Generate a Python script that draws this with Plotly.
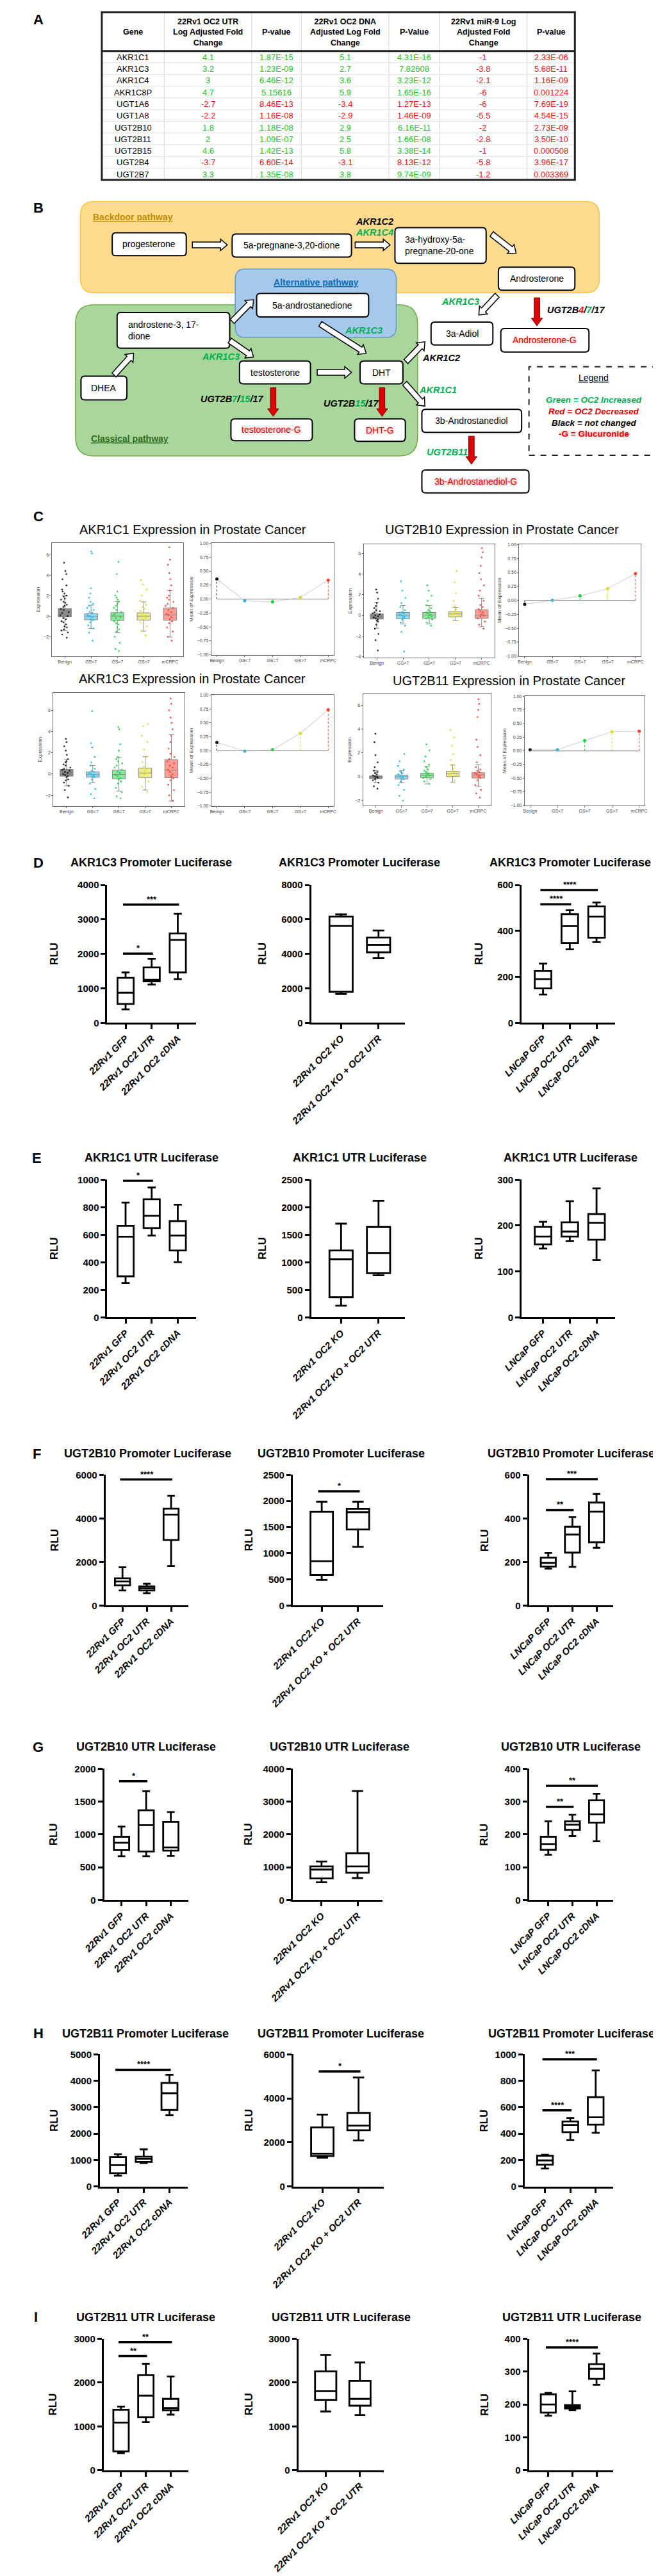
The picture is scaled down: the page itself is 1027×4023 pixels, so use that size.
import plotly.graph_objects as go

W, H = 1027, 4023
FONT = "Liberation Sans, Arial, Helvetica, sans-serif"
GREEN = "#00B050"
TGREEN = "#22C322"
RED = "#F01010"

# ---------------- panel A: table ----------------
genes = ["AKR1C1", "AKR1C3", "AKR1C4", "AKR1C8P", "UGT1A6", "UGT1A8",
         "UGT2B10", "UGT2B11", "UGT2B15", "UGT2B4", "UGT2B7"]
utr_fc = [4.1, 3.2, 3, 4.7, -2.7, -2.2, 1.8, 2, 4.6, -3.7, 3.3]
utr_p = ["1.87E-15", "1.23E-09", "6.46E-12", "5.15616", "8.46E-13", "1.16E-08",
         "1.18E-08", "1.09E-07", "1.42E-13", "6.60E-14", "1.35E-08"]
dna_fc = [5.1, 2.7, 3.6, 5.9, -3.4, -2.9, 2.9, 2.5, 5.8, -3.1, 3.8]
dna_p = ["4.31E-16", "7.82608", "3.23E-12", "1.65E-16", "1.27E-13", "1.46E-09",
         "6.16E-11", "1.66E-08", "3.38E-14", "8.13E-12", "9.74E-09"]
mir_fc = [-1, -3.8, -2.1, -6, -6, -5.5, -2, -2.8, -1, -5.8, -1.2]
mir_p = ["2.33E-06", "5.68E-11", "1.16E-09", "0.001224", "7.69E-19", "4.54E-15",
         "2.73E-09", "3.50E-10", "0.000508", "3.96E-17", "0.003369"]
table_headers = ["Gene", "22Rv1 OC2 UTR<br>Log Adjusted Fold<br>Change", "P-value",
                 "22Rv1 OC2 DNA<br>Adjusted Log Fold<br>Change", "P-Value",
                 "22Rv1 miR-9 Log<br>Adjusted Fold<br>Change", "P-value"]

# ---------------- panel C: expression by stage ----------------
stages = ["Benign", "GS<7", "GS=7", "GS>7", "mCRPC"]
stage_colors = ["#111111", "#1AB8E8", "#19D13C", "#DCDC1E", "#FF3A2A"]

# [lower whisker, q1, median, q3, upper whisker] for each stage
akr1c1_box = [[-1.41, -0.08, 0.21, 0.74, 2.0], [-1.2, -0.36, -0.04, 0.23, 1.07],
              [-1.58, -0.42, 0.0, 0.34, 1.43], [-1.47, -0.38, 0.0, 0.32, 1.39],
              [-2.04, -0.4, 0.13, 0.8, 2.48]]
akr1c1_mean = [0.36, -0.03, -0.05, 0.03, 0.34]
akr1c1_pts = [[5.2, 4.4, 4.1, 3.6, 3.0, 2.6, 2.4, 2.2, 2.0, 1.9, 1.7, 1.6, 1.4, 1.3, 1.1, 1.0, 0.9, 0.7, 0.6,
               0.4, 0.3, 0.1, 0.0, -0.2, -0.3, -0.5, -0.6, -0.8, -1.0, -1.1, -1.3, -1.4, -1.6, -1.8, -2.1],
              [6.3, 6.1, 2.7, 2.2, 1.8, 1.4, 1.2, 1.0, 0.8, 0.6, 0.4, 0.3, 0.1, 0.0, -0.1, -0.3, -0.4, -0.6,
               -0.9, -1.2, -1.6, -2.4],
              [5.3, 4.1, 2.4, 2.0, 1.8, 1.6, 1.4, 1.2, 1.0, 0.8, 0.6, 0.4, 0.2, 0.1, -0.1, -0.2, -0.4, -0.5,
               -0.7, -0.8, -1.1, -1.3, -1.5, -2.0, -2.6, -3.2, -3.4],
              [3.5, 3.1, 2.6, 2.0, 1.5, 1.1, 0.9, 0.7, 0.5, 0.3, 0.1, 0.0, -0.2, -0.3, -0.6, -1.0, -1.4, -1.9],
              [6.7, 5.5, 5.0, 4.2, 3.6, 3.0, 2.5, 2.0, 1.8, 1.6, 1.4, 1.2, 1.0, 0.8, 0.6, 0.4, 0.2, 0.1, -0.1,
               -0.3, -0.5, -0.7, -1.1, -1.5, -2.0, -2.4]]

ugt2b10_box = [[-1.24, -0.36, -0.1, 0.14, 1.24], [-0.83, -0.33, 0.0, 0.28, 0.96],
               [-0.83, -0.28, 0.03, 0.28, 0.96], [-0.47, -0.14, 0.14, 0.36, 0.77],
               [-1.1, -0.28, 0.0, 0.55, 1.65]]
ugt2b10_mean = [-0.07, 0.0, 0.08, 0.21, 0.48]
ugt2b10_pts = [[2.5, 2.2, 1.6, 1.2, 0.9, 0.7, 0.5, 0.4, 0.3, 0.2, 0.1, 0.0, -0.1, -0.2, -0.3, -0.4, -0.5, -0.6,
                -0.9, -1.3, -1.8, -2.4, -3.4],
               [3.3, 2.4, 1.7, 1.2, 0.8, 0.5, 0.3, 0.2, 0.1, 0.0, -0.1, -0.2, -0.3, -0.4, -0.7, -1.0, -1.6, -3.5],
               [2.9, 2.4, 1.9, 1.4, 1.0, 0.7, 0.5, 0.4, 0.3, 0.2, 0.1, 0.0, -0.1, -0.2, -0.3, -0.4, -0.7, -1.0],
               [4.3, 3.2, 2.1, 1.4, 0.9, 0.6, 0.4, 0.3, 0.2, 0.1, 0.0, -0.2, -0.5],
               [6.5, 6.1, 5.6, 4.8, 4.1, 3.5, 2.9, 2.4, 1.9, 1.4, 1.0, 0.8, 0.6, 0.4, 0.3, 0.1, 0.0, -0.1,
                -0.3, -0.6, -0.9, -1.3]]

akr1c3_box = [[-1.1, -0.2, 0.06, 0.44, 1.4], [-0.8, -0.3, -0.06, 0.2, 0.8],
              [-1.6, -0.44, -0.04, 0.36, 1.56], [-1.5, -0.32, 0.1, 0.56, 1.64],
              [-2.54, -0.34, 0.36, 1.34, 3.7]]
akr1c3_mean = [0.146, -0.01, 0.015, 0.31, 0.735]
akr1c3_pts = [[3.3, 3.0, 2.6, 2.2, 1.8, 1.4, 1.2, 1.1, 0.9, 0.8, 0.6, 0.5, 0.4, 0.3, 0.2, 0.1, 0.0, -0.1, -0.2,
               -0.3, -0.5, -0.6, -0.8, -1.1, -1.5, -2.2],
              [5.9, 2.9, 2.5, 1.6, 1.1, 0.8, 0.5, 0.3, 0.2, 0.1, 0.0, -0.1, -0.2, -0.3, -0.5, -0.9, -1.4,
               -1.9, -2.3],
              [4.4, 4.2, 2.8, 2.2, 1.6, 1.4, 1.2, 1.0, 0.8, 0.6, 0.4, 0.2, 0.1, -0.1, -0.2, -0.4, -0.5, -0.7,
               -0.9, -1.3, -1.7, -2.1, -2.3],
              [4.7, 4.5, 3.6, 3.0, 2.3, 1.6, 1.1, 0.7, 0.5, 0.3, 0.1, 0.0, -0.3, -0.7, -1.2, -1.7],
              [7.1, 6.6, 6.0, 5.3, 4.8, 4.2, 3.6, 3.0, 2.4, 1.9, 1.6, 1.4, 1.2, 1.0, 0.8, 0.6, 0.4, 0.2, 0.0,
               -0.2, -0.4, -0.6, -1.0, -1.5, -2.0, -2.5]]

ugt2b11_box = [[-0.5, -0.16, -0.05, 0.07, 0.5], [-0.5, -0.2, 0.0, 0.14, 0.5],
               [-0.6, -0.09, 0.11, 0.3, 0.86], [-0.45, 0.02, 0.25, 0.45, 0.98],
               [-0.8, -0.11, 0.14, 0.34, 1.0]]
ugt2b11_mean = [0.02, 0.02, 0.19, 0.35, 0.36]
ugt2b11_pts = [[3.6, 2.9, 1.8, 1.2, 0.8, 0.5, 0.4, 0.3, 0.2, 0.1, 0.05, 0.0, -0.05, -0.1, -0.2, -0.3, -0.5,
                -0.8, -1.0],
               [1.9, 1.3, 0.9, 0.6, 0.4, 0.3, 0.2, 0.1, 0.0, -0.1, -0.2, -0.4, -0.7, -1.1, -1.6, -2.0],
               [2.7, 2.2, 1.7, 1.3, 1.0, 0.8, 0.6, 0.5, 0.4, 0.3, 0.2, 0.1, 0.0, -0.1, -0.2, -0.4, -0.6],
               [3.9, 3.3, 2.6, 1.9, 1.4, 1.0, 0.7, 0.5, 0.4, 0.3, 0.2, 0.1, 0.0, -0.3],
               [6.5, 6.1, 5.6, 5.0, 3.1, 2.5, 1.8, 1.2, 0.8, 0.6, 0.5, 0.4, 0.3, 0.2, 0.1, 0.0, -0.1, -0.3,
                -0.7, -1.1, -1.4, -1.75]]

# ---------------- panels D-I: luciferase (min, q1, median, q3, max) ----------------
groups_22 = ["22Rv1 GFP", "22Rv1 OC2 UTR", "22Rv1 OC2 cDNA"]
groups_ko = ["22Rv1 OC2 KO", "22Rv1 OC2 KO + OC2 UTR"]
groups_ln = ["LNCaP GFP", "LNCaP OC2 UTR", "LNCaP OC2 cDNA"]

d1 = [[390, 547, 875, 1305, 1461], [1109, 1203, 1250, 1609, 1859], [1266, 1461, 2406, 2594, 3164]]
d2 = [[1672, 1797, 5625, 6172, 6297], [3750, 4094, 4531, 4953, 5359]]
d3 = [[123, 150, 190, 226, 258], [320, 348, 421, 473, 490], [351, 371, 463, 507, 524]]
e1 = [[250, 298, 586, 665, 833], [594, 648, 738, 858, 943], [401, 486, 594, 699, 818]]
e2 = [[212, 367, 1053, 1215, 1701], [764, 802, 1169, 1640, 2114]]
e3 = [[150, 159, 176, 197, 208], [166, 176, 187, 207, 253], [125, 169, 206, 225, 281]]
f1 = [[693, 927, 1102, 1249, 1756], [566, 693, 790, 878, 1005], [1815, 3005, 4176, 4449, 5034]]
f2 = [[490, 587, 850, 1792, 1986], [1125, 1456, 1784, 1849, 1986]]
f3 = [[169, 179, 196, 220, 241], [177, 243, 326, 362, 406], [265, 290, 431, 473, 512]]
g1 = [[668, 761, 874, 965, 1119], [668, 739, 1142, 1368, 1658], [674, 755, 803, 1190, 1342]]
g2 = [[543, 659, 931, 1027, 1176], [672, 834, 1027, 1428, 3321]]
g3 = [[138, 153, 171, 193, 240], [195, 214, 230, 240, 260], [179, 236, 261, 304, 324]]
h1 = [[403, 500, 806, 1113, 1218], [887, 927, 1048, 1129, 1403], [2694, 2895, 3532, 3919, 4226]]
h2 = [[1300, 1380, 1488, 2686, 3266], [2087, 2551, 2763, 3343, 4957]]
h3 = [[136, 165, 197, 232, 240], [350, 411, 466, 492, 519], [406, 468, 524, 676, 879]]
i1 = [[390, 429, 1088, 1380, 1454], [1098, 1210, 1703, 2169, 2431], [1268, 1370, 1420, 1630, 2140]]
i2 = [[1341, 1601, 1805, 2256, 2635], [1258, 1473, 1630, 2038, 2460]]
i3 = [[166, 175, 200, 231, 235], [183, 188, 193, 198, 240], [260, 278, 309, 323, 355]]

# significance: (group i, group j, bar height, stars)
d1_sig = [(0, 2, 3430, "***"), (0, 1, 2008, "*")]
d3_sig = [(0, 2, 578, "****"), (0, 1, 516, "****")]
e1_sig = [(0, 1, 992, "*")]
f1_sig = [(0, 2, 5785, "****")]
f2_sig = [(0, 1, 2184, "*")]
f3_sig = [(0, 2, 580, "***"), (0, 1, 438, "**")]
g1_sig = [(0, 1, 1810, "*")]
g3_sig = [(0, 2, 348, "**"), (0, 1, 284, "**")]
h1_sig = [(0, 2, 4419, "****")]
h2_sig = [(0, 1, 5227, "*")]
h3_sig = [(0, 2, 964, "***"), (0, 1, 576, "****")]
i1_sig = [(0, 2, 2926, "**"), (0, 1, 2606, "**")]
i3_sig = [(0, 2, 374, "****")]


def px(x):
    return x / W


def py(y):
    return 1 - y / H


def P(x, y):
    return f"{px(x):.5f},{py(y):.5f}"


def rgba(hexc, a):
    h = hexc.lstrip("#")
    return f"rgba({int(h[0:2], 16)},{int(h[2:4], 16)},{int(h[4:6], 16)},{a})"


annotations, shapes, traces, axes = [], [], [], {}


def label(x, y, s, size=14, color="black", xanchor="center", align="center", angle=0, **kw):
    font = dict(family=FONT, size=size, color=color)
    font.update(kw)
    annotations.append(dict(x=px(x), y=py(y), xref="paper", yref="paper", text=s, showarrow=False,
                            xanchor=xanchor, yanchor="middle", align=align, textangle=angle, font=font))


def hline(x0, x1, y, color, width):
    shapes.append(dict(type="line", xref="paper", yref="paper", x0=px(x0), x1=px(x1), y0=py(y), y1=py(y),
                       line=dict(color=color, width=width)))


def vline(x, y0, y1, color, width):
    shapes.append(dict(type="line", xref="paper", yref="paper", x0=px(x), x1=px(x), y0=py(y0), y1=py(y1),
                       line=dict(color=color, width=width)))


def rbox(x0, y0, x1, y1, r=6, fill="white", line="black", lw=2):
    path = (f"M {P(x0 + r, y0)} L {P(x1 - r, y0)} Q {P(x1, y0)} {P(x1, y0 + r)} "
            f"L {P(x1, y1 - r)} Q {P(x1, y1)} {P(x1 - r, y1)} L {P(x0 + r, y1)} "
            f"Q {P(x0, y1)} {P(x0, y1 - r)} L {P(x0, y0 + r)} Q {P(x0, y0)} {P(x0 + r, y0)} Z")
    shapes.append(dict(type="path", xref="paper", yref="paper", path=path, fillcolor=fill,
                       line=dict(color=line, width=lw)))


def arrow(x0, y0, x1, y1, shaft=4.5, head=9, hlen=11, fill="white", line="black", lw=1.5):
    dx, dy = x1 - x0, y1 - y0
    L = (dx * dx + dy * dy) ** 0.5
    ux, uy = dx / L, dy / L
    nx, ny = -uy, ux
    bx, by = x1 - ux * hlen, y1 - uy * hlen
    pts = [(x0 + nx * shaft, y0 + ny * shaft), (bx + nx * shaft, by + ny * shaft),
           (bx + nx * head, by + ny * head), (x1, y1), (bx - nx * head, by - ny * head),
           (bx - nx * shaft, by - ny * shaft), (x0 - nx * shaft, y0 - ny * shaft)]
    path = "M " + " L ".join(P(*p) for p in pts) + " Z"
    shapes.append(dict(type="path", xref="paper", yref="paper", path=path, fillcolor=fill,
                       line=dict(color=line, width=lw)))


def add_axes(x0, x1, top, bot, xcfg, ycfg):
    k = len(axes) // 2 + 1
    s = "" if k == 1 else str(k)
    axes["xaxis" + s] = dict(domain=[px(x0), px(x1)], anchor="y" + s, **xcfg)
    axes["yaxis" + s] = dict(domain=[py(bot), py(top)], anchor="x" + s, **ycfg)
    return "x" + s, "y" + s


# panel letters
for ltr, lx, ly in [("A", 10, 14), ("B", 10, 309), ("C", 10, 793), ("D", 10, 1336), ("E", 8, 1799),
                    ("F", 8, 2263), ("G", 10, 2723), ("H", 10, 3172), ("I", 6, 3617)]:
    label(lx, ly, f"<b>{ltr}</b>", size=22)

# ---------------- A: table drawn as text + rules ----------------
def fc_color(v):
    return TGREEN if v > 0 else RED


col_edges = [114, 216, 359, 440, 583, 666, 809, 887]
tab_top, head_bot, tab_bot = 2, 63, 265
row_h = (tab_bot - head_bot) / len(genes)
for e in col_edges[1:-1]:
    vline(e, tab_top, tab_bot, "#d4d4d4", 1)
for r in range(1, len(genes)):
    hline(col_edges[0], col_edges[-1], head_bot + r * row_h, "#dedede", 1)
for c, htxt in enumerate(table_headers):
    label((col_edges[c] + col_edges[c + 1]) / 2, (tab_top + head_bot) / 2 + 1, f"<b>{htxt}</b>", size=12.5)
columns = [genes, [str(v) for v in utr_fc], utr_p, [str(v) for v in dna_fc], dna_p,
           [str(v) for v in mir_fc], mir_p]
col_colors = [["black"] * len(genes), [fc_color(v) for v in utr_fc], [fc_color(v) for v in utr_fc],
              [fc_color(v) for v in dna_fc], [fc_color(v) for v in dna_fc],
              [fc_color(v) for v in mir_fc], [fc_color(v) for v in mir_fc]]
for c, (vals, cols) in enumerate(zip(columns, col_colors)):
    for r, (v, colr) in enumerate(zip(vals, cols)):
        label((col_edges[c] + col_edges[c + 1]) / 2, head_bot + (r + 0.5) * row_h + 0.5, v, size=13, color=colr)
shapes.append(dict(type="rect", xref="paper", yref="paper", x0=px(col_edges[0]), x1=px(col_edges[-1]),
                   y0=py(tab_bot), y1=py(tab_top), line=dict(color="#222", width=3)))
hline(col_edges[0], col_edges[-1], head_bot, "#222", 3)

# ---------------- B: pathway diagram ----------------
rbox(79, 299, 927, 442, r=22, fill="#FDDB8E", line="#F6C342", lw=1.5)
rbox(71, 461, 630, 698, r=30, fill="#A9D69A", line="#70AD47", lw=1.5)
rbox(332, 405, 595, 512, r=16, fill="#A6C8EA", line="#5B9BD5", lw=1.5)
label(165, 323, "<b>Backdoor pathway</b>", size=14, color="#BF8F00", lineposition="under")
label(464, 426, "<b>Alternative pathway</b>", size=14, color="#0070C0", lineposition="under")
label(160, 671, "<b>Classical pathway</b>", size=14, color="#2E6B1F", lineposition="under")

compound_boxes = [(131, 348, 252, 384, "progesterone"), (327, 350, 522, 386, "5a-pregnane-3,20-dione"),
                  (762, 402, 887, 438, "Androsterone"), (367, 443, 550, 480, "5a-androstanedione"),
                  (80, 573, 155, 610, "DHEA"), (339, 549, 455, 585, "testosterone"),
                  (536, 549, 606, 585, "DHT"), (652, 488, 753, 524, "3a-Adiol"),
                  (637, 625, 800, 661, "3b-Androstanediol")]
for x0, y0, x1, y1, s in compound_boxes:
    rbox(x0, y0, x1, y1)
    label((x0 + x1) / 2, (y0 + y1) / 2, s, size=14)
rbox(593, 340, 742, 396)
label(607, 368, "3a-hydroxy-5a-<br>pregnane-20-one", size=14, xanchor="left", align="left")
rbox(139, 473, 323, 529)
label(155, 501, "androstene-3, 17-<br>dione", size=14, xanchor="left", align="left")

gluc_boxes = [(766, 498, 910, 535, "Androsterone-G"), (325, 640, 458, 674, "testosterone-G"),
              (527, 640, 610, 675, "DHT-G"), (637, 720, 812, 756, "3b-Androstanediol-G")]
for x0, y0, x1, y1, s in gluc_boxes:
    rbox(x0, y0, x1, y1)
    label((x0 + x1) / 2, (y0 + y1) / 2, s, size=14, color="#E00000", shadow="0px 0px 4px #FF9090")

# white conversion arrows
arrow(262, 367, 319, 367)
arrow(528, 367, 585, 367)
arrow(751, 350, 791, 380)
arrow(760, 446, 730, 477)
arrow(134, 571, 166, 537)
arrow(327, 487, 362, 453)
arrow(323, 517, 362, 543)
arrow(466, 567, 522, 567)
arrow(471, 491, 546, 537)
arrow(611, 550, 642, 519)
arrow(609, 584, 642, 620)
# red glucuronidation arrows
for ax_, ay0, ay1 in [(825, 450, 494), (394, 591, 636), (572, 591, 636), (718, 667, 711)]:
    arrow(ax_, ay0, ax_, ay1, shaft=4.5, head=9, hlen=12, fill="#E00000", line="#700000", lw=1)

g = f"color:{GREEN}"
label(560, 330, "<b><i>AKR1C2</i></b>", size=14.5)
label(560, 347, "<b><i>AKR1C4</i></b>", size=14.5, color=GREEN)
label(700, 456, "<b><i>AKR1C3</i></b>", size=14.5, color=GREEN)
label(542, 501, "<b><i>AKR1C3</i></b>", size=14.5, color=GREEN)
label(308, 542, "<b><i>AKR1C3</i></b>", size=14.5, color=GREEN)
label(668, 544, "<b><i>AKR1C2</i></b>", size=14.5)
label(663, 595, "<b><i>AKR1C1</i></b>", size=14.5, color=GREEN)
label(678, 692, "<b><i>UGT2B11</i></b>", size=14.5, color=GREEN)
label(327, 609, f"<b><i>UGT2B<span style='{g}'>7</span>/<span style='{g}'>15</span>/17</i></b>", size=14.5)
label(521, 616, f"<b><i>UGT2B<span style='{g}'>15</span>/17</i></b>", size=14.5)
label(889, 469, f"<b><i>UGT2B<span style='color:{RED}'>4</span>/<span style='{g}'>7</span>/17</i></b>", size=14.5)

# legend box
shapes.append(dict(type="rect", xref="paper", yref="paper", x0=px(812), x1=px(1024), y0=py(697), y1=py(558),
                   line=dict(color="#222", width=2, dash="dash")))
label(918, 575, "Legend", size=14, lineposition="under")
label(918, 610, "<b><i>Green = OC2 Increased</i></b>", size=13.5, color=GREEN)
label(918, 628, "<b><i>Red = OC2 Decreased</i></b>", size=13.5, color="#E00000")
label(918, 646, "<b><i>Black = not changed</i></b>", size=13.5)
label(918, 663, "<b>-G = Glucuronide</b>", size=13.5, color="#E00000", shadow="0px 0px 4px #FF9090")

# ---------------- C: expression panels ----------------
c_axis = dict(showline=True, mirror=True, linecolor="#666", linewidth=1.2, showgrid=False, zeroline=False,
              ticks="outside", ticklen=2, tickcolor="#666", tickfont=dict(family=FONT, size=7, color="#444"))


def expression_panel(title, tx, ty, box_rect, mean_rect, yrange, box, mean, pts):
    label(tx, ty, title, size=20)
    xa, ya = add_axes(*box_rect,
                      xcfg=dict(range=[-0.5, 4.5], tickvals=list(range(5)), ticktext=stages, **c_axis),
                      ycfg=dict(range=yrange, dtick=2,
                                title=dict(text="Expression", font=dict(family=FONT, size=8, color="#444"), standoff=4),
                                **c_axis))
    for i, col in enumerate(stage_colors):
        lo, q1, med, q3, hi = box[i]
        traces.append(go.Box(x=[i], lowerfence=[lo], q1=[q1], median=[med], q3=[q3], upperfence=[hi],
                             width=0.5, whiskerwidth=0.4, fillcolor=rgba(col, 0.5),
                             line=dict(color="#8a8a8a", width=1), boxpoints=False, xaxis=xa, yaxis=ya))
        traces.append(go.Box(x=[i] * len(pts[i]), y=pts[i], boxpoints="all", jitter=0.7, pointpos=0, width=0.5,
                             fillcolor="rgba(0,0,0,0)", line=dict(color="rgba(0,0,0,0)", width=0),
                             marker=dict(size=2.8, color=col, opacity=0.85), xaxis=xa, yaxis=ya))
    xb, yb = add_axes(*mean_rect,
                      xcfg=dict(range=[-0.2, 4.2], tickvals=list(range(5)), ticktext=stages, **c_axis),
                      ycfg=dict(range=[-1, 1], dtick=0.25, tickformat=".2f",
                                title=dict(text="Mean of Expression", font=dict(family=FONT, size=8, color="#444"),
                                           standoff=4), **c_axis))
    shapes.append(dict(type="line", xref=xb, yref=yb, x0=0, x1=4, y0=0, y1=0, line=dict(color="#9a9a9a", width=1.2)))
    traces.append(go.Scatter(x=list(range(5)), y=mean, mode="lines", line=dict(color="#d6d6d6", width=1.2),
                             xaxis=xb, yaxis=yb))
    for i, col in enumerate(stage_colors):
        traces.append(go.Scatter(x=[i, i], y=[0, mean[i]], mode="lines", line=dict(color=col, width=1, dash="dot"),
                                 xaxis=xb, yaxis=yb))
    traces.append(go.Scatter(x=list(range(5)), y=mean, mode="markers", marker=dict(size=5, color=stage_colors),
                             xaxis=xb, yaxis=yb))


expression_panel("AKR1C1 Expression in Prostate Cancer", 263, 813, (32, 247, 835, 1012), (293, 493, 835, 1010),
                 [-3.9, 7.1], akr1c1_box, akr1c1_mean, akr1c1_pts)
expression_panel("UGT2B10 Expression in Prostate Cancer", 768, 813, (542, 756, 837, 1014), (796, 995, 837, 1012),
                 [-4.07, 6.85], ugt2b10_box, ugt2b10_mean, ugt2b10_pts)
expression_panel("AKR1C3 Expression in Prostate Cancer", 262, 1047, (35, 249, 1070, 1247), (293, 493, 1073, 1247),
                 [-3.0, 7.6], akr1c3_box, akr1c3_mean, akr1c3_pts)
expression_panel("UGT2B11 Expression in Prostate Cancer", 779, 1050, (541, 750, 1072, 1246), (805, 1001, 1075, 1246),
                 [-2.4, 6.9], ugt2b11_box, ugt2b11_mean, ugt2b11_pts)

# ---------------- D-I: luciferase box plots ----------------
luc_common = dict(showline=True, linecolor="black", linewidth=3, ticks="outside", ticklen=7, tickwidth=3,
                  tickcolor="black", showgrid=False, zeroline=False)
x_ranges = {"22": [-0.7, 2.7], "ko": [-0.8, 1.7], "ln": [-0.8, 2.7]}
group_sets = {"22": groups_22, "ko": groups_ko, "ln": groups_ln}

rows = [
    ("AKR1C3 Promoter Luciferase", 1336, 1371, 1587, [195, 535, 879], [(123, 268), (456, 609), (800, 953)],
     [36, 377, 730], [d1, d2, d3], [4000, 8000, 600], [1000, 2000, 200], [d1_sig, [], d3_sig]),
    ("AKR1C1 UTR Luciferase", 1799, 1833, 2049, [195, 535, 880], [(123, 268), (456, 609), (800, 953)],
     [36, 377, 730], [e1, e2, e3], [1000, 2500, 300], [200, 500, 100], [e1_sig, [], []]),
    ("UGT2B10 Promoter Luciferase", 2263, 2296, 2501, [189, 505, 881], [(120, 255), (426, 574), (812, 950)],
     [37, 354, 739], [f1, f2, f3], [6000, 2500, 600], [2000, 500, 200], [f1_sig, f2_sig, f3_sig]),
    ("UGT2B10 UTR Luciferase", 2723, 2757, 2963, [186, 503, 880], [(118, 255), (426, 573), (812, 950)],
     [36, 354, 739], [g1, g2, g3], [2000, 4000, 400], [500, 1000, 100], [g1_sig, [], g3_sig]),
    ("UGT2B11 Promoter Luciferase", 3172, 3205, 3412, [185, 505, 881], [(111, 254), (427, 575), (805, 950)],
     [36, 354, 739], [h1, h2, h3], [5000, 6000, 1000], [1000, 2000, 200], [h1_sig, h2_sig, h3_sig]),
    ("UGT2B11 UTR Luciferase", 3617, 3651, 3857, [186, 505, 882], [(117, 255), (435, 575), (812, 950)],
     [34, 354, 739], [i1, i2, i3], [3000, 3000, 400], [1000, 1000, 100], [i1_sig, [], i3_sig]),
]

for title, ty, top, bot, txs, xspans, rlux, datas, ymaxs, dticks, sigs in rows:
    for kind, tx, (x0, x1), rx, data, ymax, dt, sig in zip(["22", "ko", "ln"], txs, xspans, rlux, datas,
                                                           ymaxs, dticks, sigs):
        label(tx, ty, f"<b>{title}</b>", size=18)
        grp = group_sets[kind]
        xa, ya = add_axes(x0, x1, top, bot,
                          xcfg=dict(range=x_ranges[kind], tickvals=list(range(len(grp))),
                                    ticktext=[f"<b><i>{s}</i></b>" for s in grp], tickangle=-45,
                                    tickfont=dict(family=FONT, size=15, color="black"), **luc_common),
                          ycfg=dict(range=[0, ymax], dtick=dt,
                                    tickfont=dict(family=FONT, size=15, color="black", weight="bold"), **luc_common))
        traces.append(go.Box(x=list(range(len(grp))), lowerfence=[d[0] for d in data], q1=[d[1] for d in data],
                             median=[d[2] for d in data], q3=[d[3] for d in data], upperfence=[d[4] for d in data],
                             width=0.62, whiskerwidth=0.5, fillcolor="white", line=dict(color="black", width=2.8),
                             boxpoints=False, xaxis=xa, yaxis=ya))
        for i, j, yv, stars in sig:
            shapes.append(dict(type="line", xref=xa, yref=ya, x0=i - 0.1, x1=j + 0.05, y0=yv, y1=yv,
                               line=dict(color="black", width=3.5)))
            annotations.append(dict(xref=xa, yref=ya, x=(i + j) / 2, y=yv, text=f"<b>{stars}</b>", showarrow=False,
                                    yanchor="bottom", yshift=-1, font=dict(family=FONT, size=13, color="black")))
        label(rx, (top + bot) / 2, "<b>RLU</b>", size=17, angle=-90)

fig = go.Figure(data=traces)
fig.update_layout(
    width=W, height=H, autosize=False,
    margin=dict(l=0, r=0, t=0, b=0),
    paper_bgcolor="white", plot_bgcolor="white",
    showlegend=False,
    font=dict(family=FONT),
    annotations=annotations,
    shapes=shapes,
    **axes,
)
fig.write_html("out.html")
